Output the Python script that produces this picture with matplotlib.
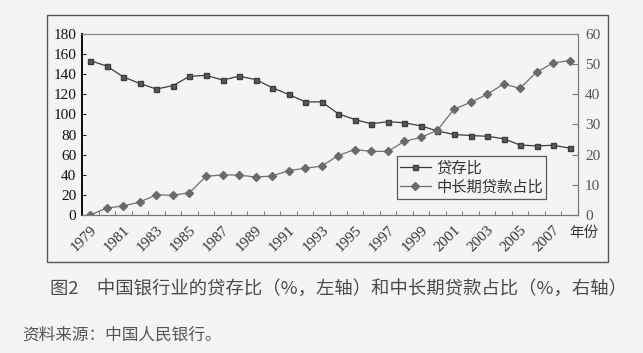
import matplotlib
matplotlib.use('Agg')
import matplotlib.pyplot as plt
from matplotlib.patches import Rectangle

plt.rcParams['font.family'] = ['Noto Sans CJK SC', 'DejaVu Sans']

# data
years = list(range(1979, 2009))
loan_deposit = [153.4, 148.1, 137.3, 130.8, 125.2, 128.7, 137.8, 138.9, 134.2, 138.0,
                134.7, 126.7, 119.9, 112.5, 112.4, 100.7, 94.9, 90.7, 92.8, 91.7,
                88.6, 83.5, 80.1, 79.0, 78.3, 75.8, 69.6, 68.7, 69.3, 66.5]
longterm_share = [0.0, 2.3, 3.0, 4.3, 6.7, 6.5, 7.4, 12.8, 13.3, 13.2,
                  12.6, 12.9, 14.7, 15.5, 16.2, 19.7, 21.7, 21.1, 21.1, 24.4,
                  25.7, 28.1, 35.1, 37.3, 40.0, 43.4, 42.0, 47.4, 50.4, 51.2]
label_years = [str(y) for y in range(1979, 2008, 2)]

name_ldr = '贷存比'
name_lt = '中长期贷款占比'
caption = '图2　中国银行业的贷存比（%，左轴）和中长期贷款占比（%，右轴）'
source = '资料来源：中国人民银行。'

bg = '#f4f4f2'
serif = ['Liberation Serif', 'DejaVu Serif']

fig = plt.figure(figsize=(6.43, 3.53), dpi=100, facecolor=bg)

# outer frame of the figure box
fig.patches.append(Rectangle((0.073, 0.258), 0.873, 0.70, transform=fig.transFigure,
                             fill=False, edgecolor='#555555', linewidth=1.0))

ax1 = fig.add_axes([0.1275, 0.391, 0.7714, 0.5127])
ax1.set_facecolor('none')
ax2 = ax1.twinx()

x = list(range(len(years)))
l1, = ax1.plot(x, loan_deposit, color='#3c3c3c', linewidth=0.9,
               marker='s', markersize=3.6, markerfacecolor='#5a5a5a', markeredgecolor='#3c3c3c')
l2, = ax2.plot(x, longterm_share, color='#707070', linewidth=0.9,
               marker='D', markersize=4.2, markerfacecolor='#6a6a6a', markeredgecolor='#6a6a6a')

ax1.set_xlim(-0.5, len(years) - 0.5)
ax1.set_ylim(0, 180)
ax2.set_ylim(0, 60)
ax1.set_yticks(range(0, 181, 20))
ax2.set_yticks(range(0, 61, 10))

# category ticks at boundaries, labels every other year
ax1.set_xticks([i - 0.5 for i in range(len(years) + 1)], minor=True)
ax1.set_xticks(list(range(0, len(years), 2)))
ax1.set_xticklabels(label_years, rotation=45, ha='right', rotation_mode='anchor',
                    fontfamily=serif, fontsize=11, color='#333333')
ax1.tick_params(axis='x', which='major', length=0, pad=6)
ax1.tick_params(axis='x', which='minor', direction='in', length=3, color='#666666')

ax1.tick_params(axis='y', direction='in', length=3, color='#222222', labelsize=11, pad=4)
for t in ax1.get_yticklabels():
    t.set_fontfamily(serif)
    t.set_color('#111111')
ax2.tick_params(axis='y', direction='in', length=4, color='#777777', labelsize=11,
                labelcolor='#555555', pad=5)
for t in ax2.get_yticklabels():
    t.set_fontfamily(serif)

for ax in (ax1, ax2):
    ax.spines['top'].set_linestyle((0, (2, 1)))
    ax.spines['top'].set_color('#888888')
    ax.spines['top'].set_linewidth(0.8)
    ax.spines['bottom'].set_color('#777777')
    ax.spines['right'].set_color('#777777')
    ax.spines['left'].set_color('#111111')
    ax.spines['left'].set_linewidth(1.3)

leg = ax2.legend([l1, l2], [name_ldr, name_lt], loc='lower left',
                 bbox_to_anchor=(0.635, 0.09), numpoints=1, fancybox=False,
                 frameon=True, fontsize=11, handlelength=2.0, handletextpad=0.4,
                 borderpad=0.2, labelspacing=0.15, borderaxespad=0)
leg.get_frame().set_edgecolor('#333333')
leg.get_frame().set_facecolor(bg)
leg.get_frame().set_linewidth(0.9)
for t in leg.get_texts():
    t.set_color('#333333')

fig.text(0.908, 0.34, '年份', fontsize=10.5, color='#333333', ha='center', va='center')

fig.text(0.078, 0.178, caption, fontsize=13.2, color='#4a4a4a', ha='left', va='center')
fig.text(0.034, 0.051, source, fontsize=12, color='#555555', ha='left', va='center')

fig.savefig('out.png', dpi=100, facecolor=bg)
